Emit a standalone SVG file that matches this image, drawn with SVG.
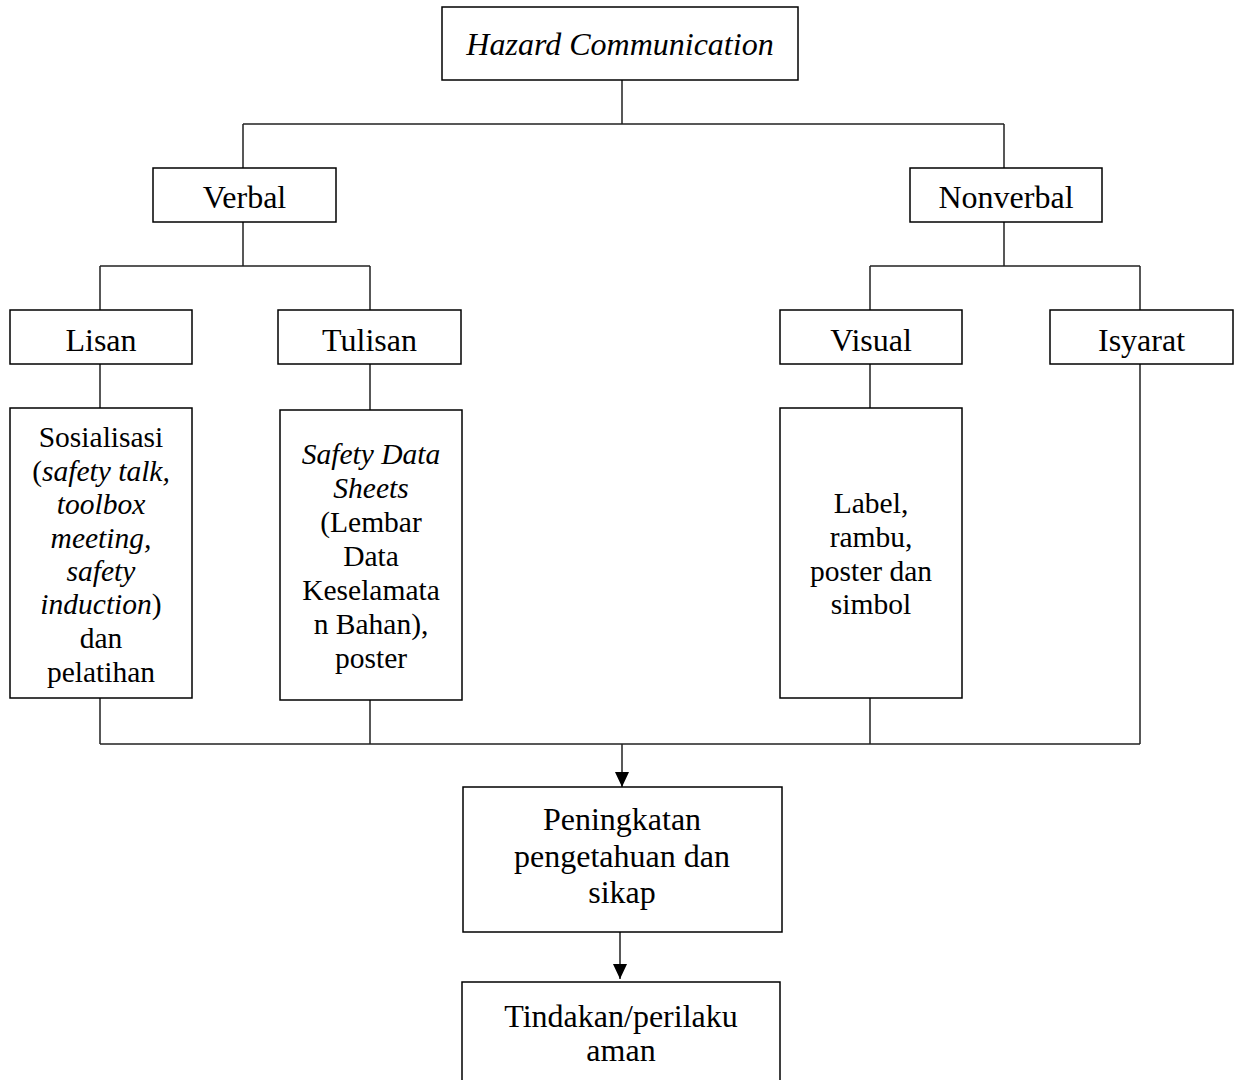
<svg xmlns="http://www.w3.org/2000/svg" width="1236" height="1080" viewBox="0 0 1236 1080">
<style>
.box{fill:#fff;stroke:#000;stroke-width:1.5}
.ln{fill:none;stroke:#222;stroke-width:1.5}
text{font-family:"Liberation Serif","Times New Roman",serif;font-size:32px;fill:#000;text-anchor:middle}
.sm text{font-size:29.5px}
.it{font-style:italic}
</style>
<defs>
<marker id="arr" viewBox="0 0 15 14" refX="15" refY="7" markerWidth="15" markerHeight="14" markerUnits="userSpaceOnUse" orient="auto">
<path d="M0,0 L15,7 L0,14 z" fill="#000"/>
</marker>
</defs>
<rect width="1236" height="1080" fill="#fff"/>
<g id="connectors">
<path class="ln" d="M622,80 V124 M243,124 H1004 M243,124 V168 M1004,124 V168"/>
<path class="ln" d="M243,222 V266 M100,266 H370 M100,266 V310 M370,266 V310"/>
<path class="ln" d="M1004,222 V266 M870,266 H1140 M870,266 V310 M1140,266 V310"/>
<path class="ln" d="M100,364 V408 M370,364 V410 M870,364 V408"/>
<path class="ln" d="M100,698 V744 M370,700 V744 M870,698 V744 M1140,364 V744 M100,744 H1140"/>
<line class="ln" x1="622" y1="744" x2="622" y2="787" marker-end="url(#arr)"/>
<line class="ln" x1="620" y1="932" x2="620" y2="979" marker-end="url(#arr)"/>
</g>
<g id="hazard">
<rect class="box" x="442" y="7" width="356" height="73"/>
<text class="it" x="620" y="55">Hazard Communication</text>
</g>
<g id="verbal">
<rect class="box" x="153" y="168" width="183" height="54"/>
<text x="244.5" y="208">Verbal</text>
</g>
<g id="nonverbal">
<rect class="box" x="910" y="168" width="192" height="54"/>
<text x="1006" y="208">Nonverbal</text>
</g>
<g id="lisan">
<rect class="box" x="10" y="310" width="182" height="54"/>
<text x="101" y="351">Lisan</text>
</g>
<g id="tulisan">
<rect class="box" x="278" y="310" width="183" height="54"/>
<text x="369.5" y="351">Tulisan</text>
</g>
<g id="visual">
<rect class="box" x="780" y="310" width="182" height="54"/>
<text x="871" y="351">Visual</text>
</g>
<g id="isyarat">
<rect class="box" x="1050" y="310" width="183" height="54"/>
<text x="1141.5" y="351">Isyarat</text>
</g>
<g id="lisan-detail" class="sm">
<rect class="box" x="10" y="408" width="182" height="290"/>
<text x="101" y="447">Sosialisasi</text>
<text x="101" y="481">(<tspan class="it">safety talk,</tspan></text>
<text x="101" y="514" class="it">toolbox</text>
<text x="101" y="548" class="it">meeting,</text>
<text x="101" y="581" class="it">safety</text>
<text x="101" y="614"><tspan class="it">induction</tspan>)</text>
<text x="101" y="648">dan</text>
<text x="101" y="682">pelatihan</text>
</g>
<g id="tulisan-detail" class="sm">
<rect class="box" x="280" y="410" width="182" height="290"/>
<text x="371" y="464" class="it">Safety Data</text>
<text x="371" y="498" class="it">Sheets</text>
<text x="371" y="532">(Lembar</text>
<text x="371" y="566">Data</text>
<text x="371" y="600">Keselamata</text>
<text x="371" y="634">n Bahan),</text>
<text x="371" y="668">poster</text>
</g>
<g id="visual-detail" class="sm">
<rect class="box" x="780" y="408" width="182" height="290"/>
<text x="871" y="513">Label,</text>
<text x="871" y="547">rambu,</text>
<text x="871" y="581">poster dan</text>
<text x="871" y="614">simbol</text>
</g>
<g id="peningkatan">
<rect class="box" x="463" y="787" width="319" height="145"/>
<text x="622" y="830">Peningkatan</text>
<text x="622" y="867">pengetahuan dan</text>
<text x="622" y="903">sikap</text>
</g>
<g id="tindakan">
<rect class="box" x="462" y="982" width="318" height="120"/>
<text x="621" y="1027">Tindakan/perilaku</text>
<text x="621" y="1061">aman</text>
</g>
</svg>
